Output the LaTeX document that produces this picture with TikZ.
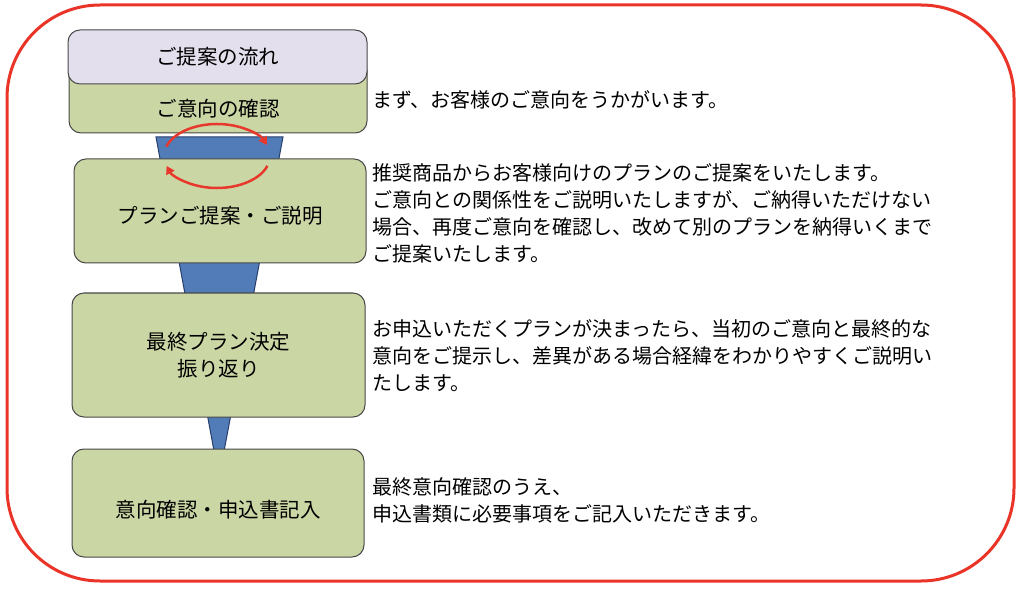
\documentclass[tikz,border=0pt]{standalone}
\usepackage{fontspec}
\setmainfont{Noto Sans CJK JP}
\usetikzlibrary{arrows.meta, positioning}
\definecolor{boxgreen}{RGB}{203,214,165}
\definecolor{headlav}{RGB}{228,223,236}
\definecolor{funnelblue}{RGB}{82,124,183}
\definecolor{funneledge}{RGB}{38,62,108}
\definecolor{loopred}{RGB}{232,56,43}
\definecolor{framered}{RGB}{234,52,40}
\definecolor{boxedge}{RGB}{72,72,72}

\begin{document}
\begin{tikzpicture}[x=1pt,y=-1pt,>={Triangle[length=8pt,width=9pt]},
  flowbox/.style={draw=boxedge, line width=1pt, fill=boxgreen, rounded corners=12pt, align=center, inner sep=0pt,
    font=\fontsize{20.5}{27}\selectfont, label distance=0pt},
  desc/.style={anchor=west, align=left, inner sep=0pt, font=\fontsize{20}{27}\selectfont}]
\useasboundingbox (0,0) rectangle (1024,593);
% outer frame
\draw[framered, line width=3pt, rounded corners=93pt] (7,5) rectangle (1014,581);
% funnel behind the boxes
\draw[funneledge, fill=funnelblue, line width=1pt] (156,137) -- (283,137) -- (219,478) -- cycle;
% steps
\node[flowbox, minimum width=298pt, minimum height=74pt,
  label={[font=\fontsize{20.5}{27}\selectfont, yshift=-13pt]center:ご意向の確認}] (confirm) at (218,96) {};
\node[flowbox, fill=headlav, minimum width=299pt, minimum height=54pt] (head) at (217.5,57) {ご提案の流れ};
\node[flowbox, minimum width=292pt, minimum height=104pt,
  label={[font=\fontsize{20.5}{27}\selectfont, yshift=-5pt]center:プランご提案・ご説明}] (propose) at (220,211) {};
\node[flowbox, minimum width=293pt, minimum height=124pt] (decide) at (218.5,355) {最終プラン決定\\振り返り};
\node[flowbox, minimum width=292pt, minimum height=108pt,
  label={[font=\fontsize{20.5}{27}\selectfont, yshift=-7pt]center:意向確認・申込書記入}] (apply) at (218,503) {};
% loop between the first two steps
\coordinate (loop) at (217,156);
\draw[loopred, line width=2.5pt, ->] ([shift={(197:53 and 32)}]loop) arc[start angle=197, end angle=340, x radius=53, y radius=32];
\draw[loopred, line width=2.5pt, ->] ([shift={(18:53 and 32)}]loop) arc[start angle=18, end angle=162, x radius=53, y radius=32];
% descriptions
\node[desc] (confirmtxt) at (372,100) {まず、お客様のご意向をうかがいます。};
\node[desc] (proposetxt) at (372,213) {推奨商品からお客様向けのプランのご提案をいたします。\\ご意向との関係性をご説明いたしますが、ご納得いただけない\\場合、再度ご意向を確認し、改めて別のプランを納得いくまで\\ご提案いたします。};
\node[desc] (decidetxt) at (372,356) {お申込いただくプランが決まったら、当初のご意向と最終的な\\意向をご提示し、差異がある場合経緯をわかりやすくご説明い\\たします。};
\node[desc] (applytxt) at (372,500) {最終意向確認のうえ、\\申込書類に必要事項をご記入いただきます。};
\end{tikzpicture}
\end{document}
